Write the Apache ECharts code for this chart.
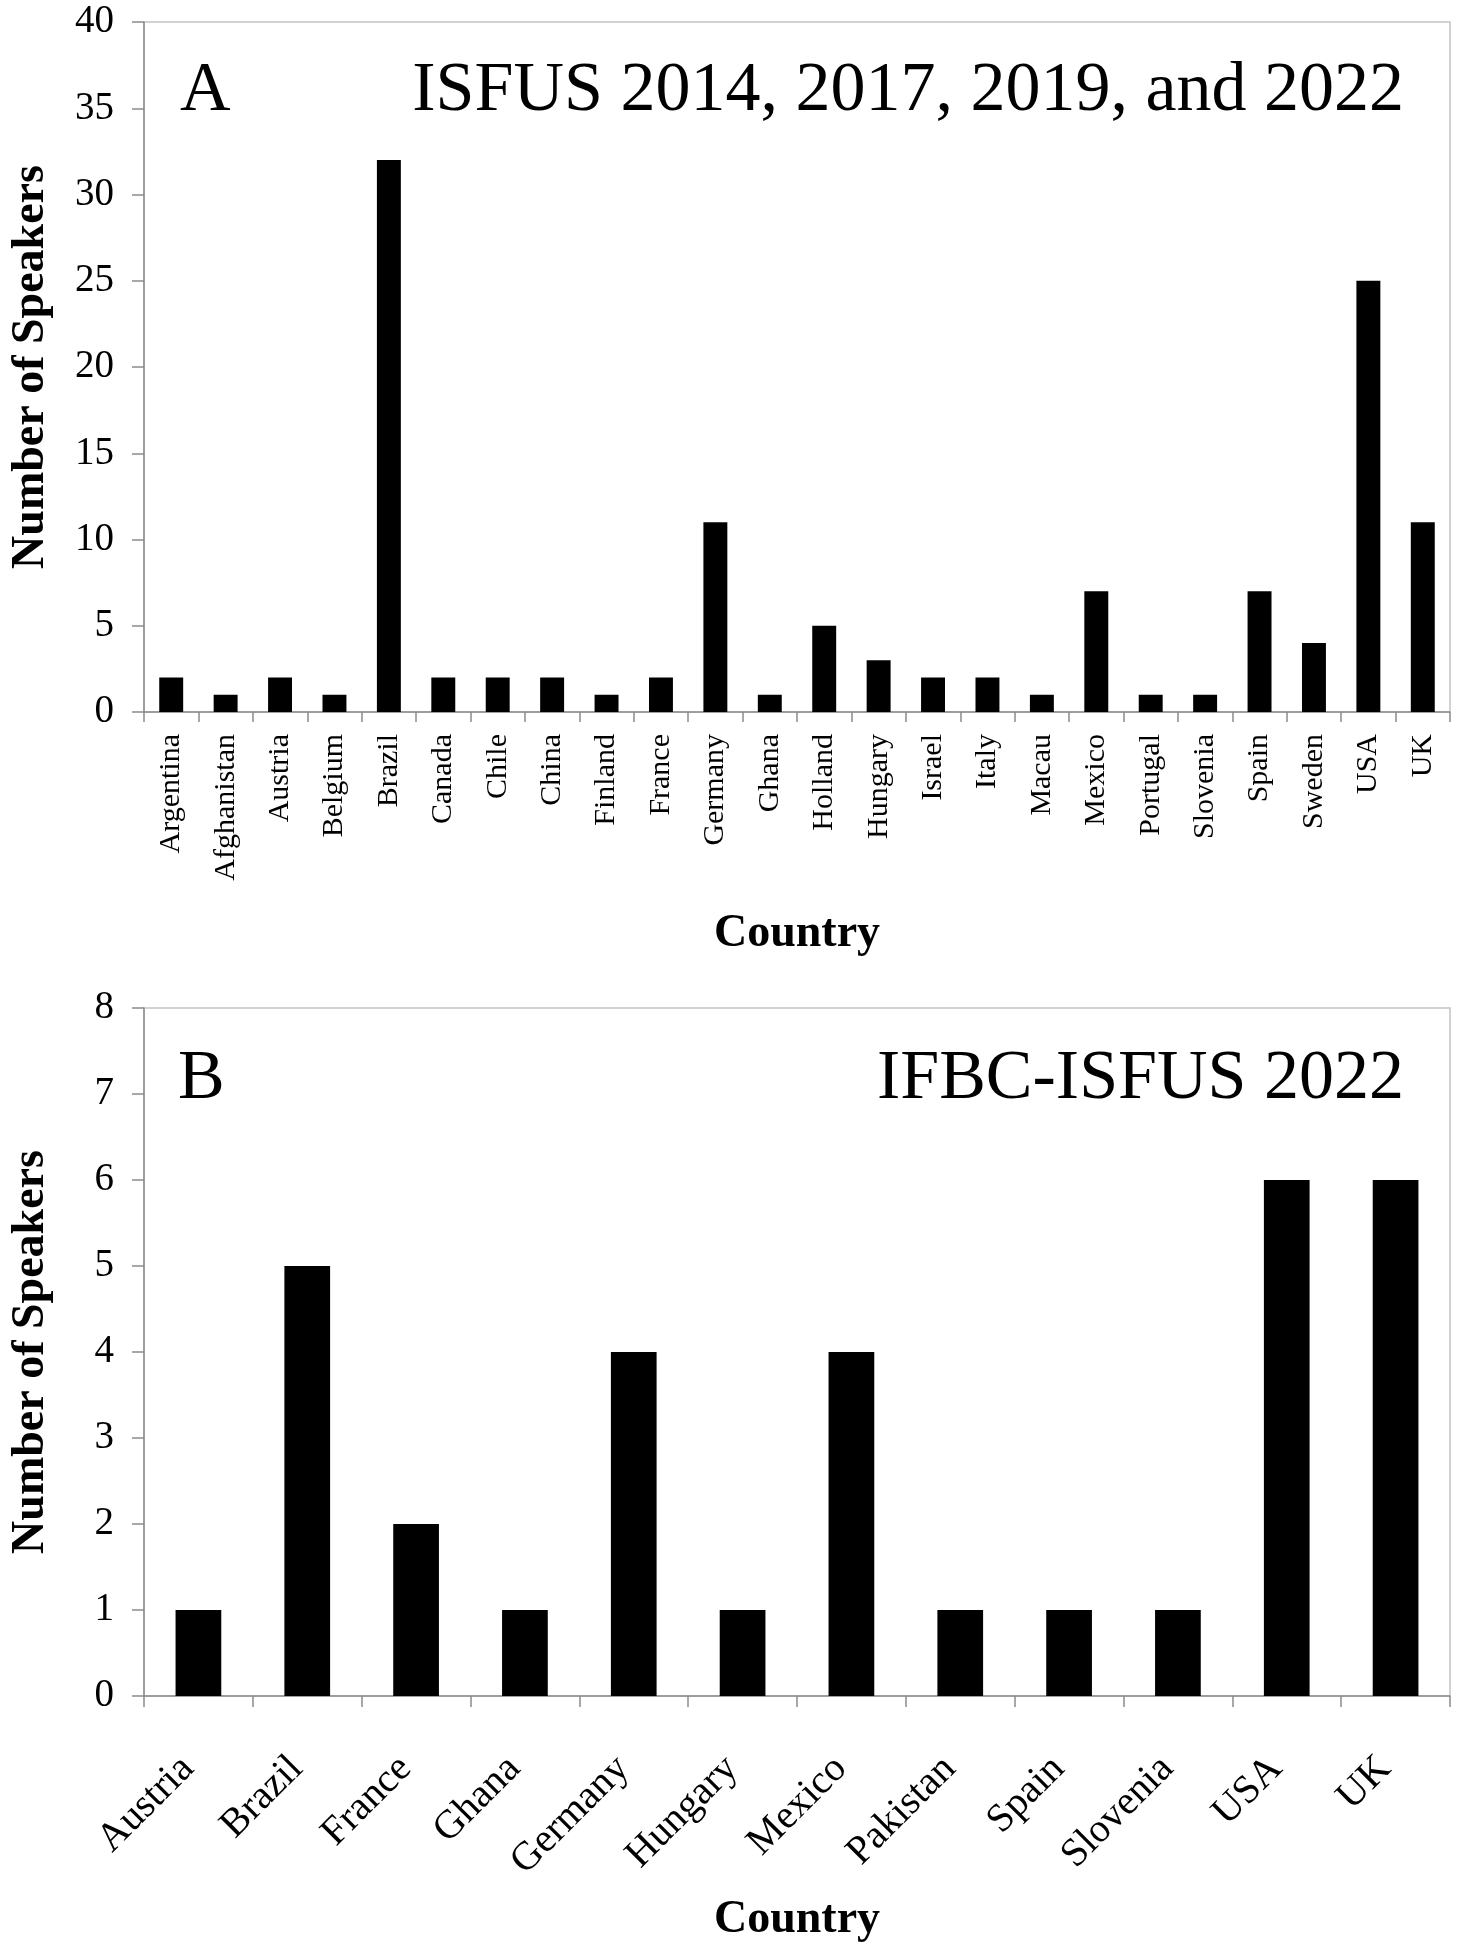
<!DOCTYPE html>
<html>
<head>
<meta charset="utf-8">
<script src="https://cdn.jsdelivr.net/npm/echarts@6/dist/echarts.min.js"></script>
<style>
html,body{margin:0;padding:0;background:#fff;}
#chart{width:1458px;height:1950px;}
</style>
</head>
<body>
<div id="chart"></div>
<script>
// Panel A data
var countriesA = ['Argentina','Afghanistan','Austria','Belgium','Brazil','Canada','Chile','China','Finland','France','Germany','Ghana','Holland','Hungary','Israel','Italy','Macau','Mexico','Portugal','Slovenia','Spain','Sweden','USA','UK'];
var speakersA = [2,1,2,1,32,2,2,2,1,2,11,1,5,3,2,2,1,7,1,1,7,4,25,11];
// Panel B data
var countriesB = ['Austria','Brazil','France','Ghana','Germany','Hungary','Mexico','Pakistan','Spain','Slovenia','USA','UK'];
var speakersB = [1,5,2,1,4,1,4,1,1,1,6,6];

var titleA = 'ISFUS 2014, 2017, 2019, and 2022';
var titleB = 'IFBC-ISFUS 2022';
var yName = 'Number of Speakers';
var xName = 'Country';

var serif = '"Liberation Serif", "Times New Roman", serif';
var axisColor = '#8c8c8c';
var borderColor = '#c4c4c4';

var chart = echarts.init(document.getElementById('chart'), null, {renderer:'canvas'});

function yAxisCfg(gridIndex, max, interval){
  return {
    type:'value', gridIndex:gridIndex, min:0, max:max, interval:interval,
    name:yName, nameLocation:'middle', nameGap:90,
    nameTextStyle:{fontFamily:serif, fontWeight:'bold', fontSize:46, color:'#000'},
    axisLine:{show:true, lineStyle:{color:axisColor, width:1.5}},
    axisTick:{show:true, length:12, inside:false, lineStyle:{color:axisColor, width:1.5}},
    axisLabel:{fontFamily:serif, fontSize:39, color:'#000', margin:30},
    splitLine:{show:false}
  };
}

var option = {
  backgroundColor:'#fff',
  animation:false,
  title:[
    {text:'A', left:175, top:52, textStyle:{fontFamily:serif, fontWeight:'normal', fontSize:70, color:'#000'}},
    {text:titleA, right:49, top:52, textStyle:{fontFamily:serif, fontWeight:'normal', fontSize:70, color:'#000'}},
    {text:'B', left:173, top:1040, textStyle:{fontFamily:serif, fontWeight:'normal', fontSize:70, color:'#000'}},
    {text:titleB, right:49, top:1040, textStyle:{fontFamily:serif, fontWeight:'normal', fontSize:70, color:'#000'}}
  ],
  grid:[
    {left:139, right:8, top:22, height:690, show:true, borderColor:borderColor, borderWidth:1.5, backgroundColor:'transparent'},
    {left:139, right:8, top:1008, height:688, show:true, borderColor:borderColor, borderWidth:1.5, backgroundColor:'transparent'}
  ],
  xAxis:[
    {
      type:'category', gridIndex:0, data:countriesA,
      name:xName, nameLocation:'middle', nameGap:199,
      nameTextStyle:{fontFamily:serif, fontWeight:'bold', fontSize:46, color:'#000'},
      axisLine:{show:true, lineStyle:{color:axisColor, width:1.5}},
      axisTick:{show:true, length:10, alignWithLabel:false, lineStyle:{color:axisColor, width:1.5}},
      axisLabel:{fontFamily:serif, fontSize:30, color:'#000', rotate:90, margin:22, interval:0}
    },
    {
      type:'category', gridIndex:1, data:countriesB,
      name:xName, nameLocation:'middle', nameGap:201,
      nameTextStyle:{fontFamily:serif, fontWeight:'bold', fontSize:46, color:'#000'},
      axisLine:{show:true, lineStyle:{color:axisColor, width:1.5}},
      axisTick:{show:true, length:11, alignWithLabel:false, lineStyle:{color:axisColor, width:1.5}},
      axisLabel:{fontFamily:serif, fontSize:40, color:'#000', rotate:45, margin:56, interval:0, padding:[0,15,31,0]}
    }
  ],
  yAxis:[ yAxisCfg(0, 40, 5), yAxisCfg(1, 8, 1) ],
  series:[
    {type:'bar', xAxisIndex:0, yAxisIndex:0, data:speakersA, barWidth:'44%', itemStyle:{color:'#000'}},
    {type:'bar', xAxisIndex:1, yAxisIndex:1, data:speakersB, barWidth:'42%', itemStyle:{color:'#000'}}
  ]
};
chart.setOption(option);
</script>
</body>
</html>
